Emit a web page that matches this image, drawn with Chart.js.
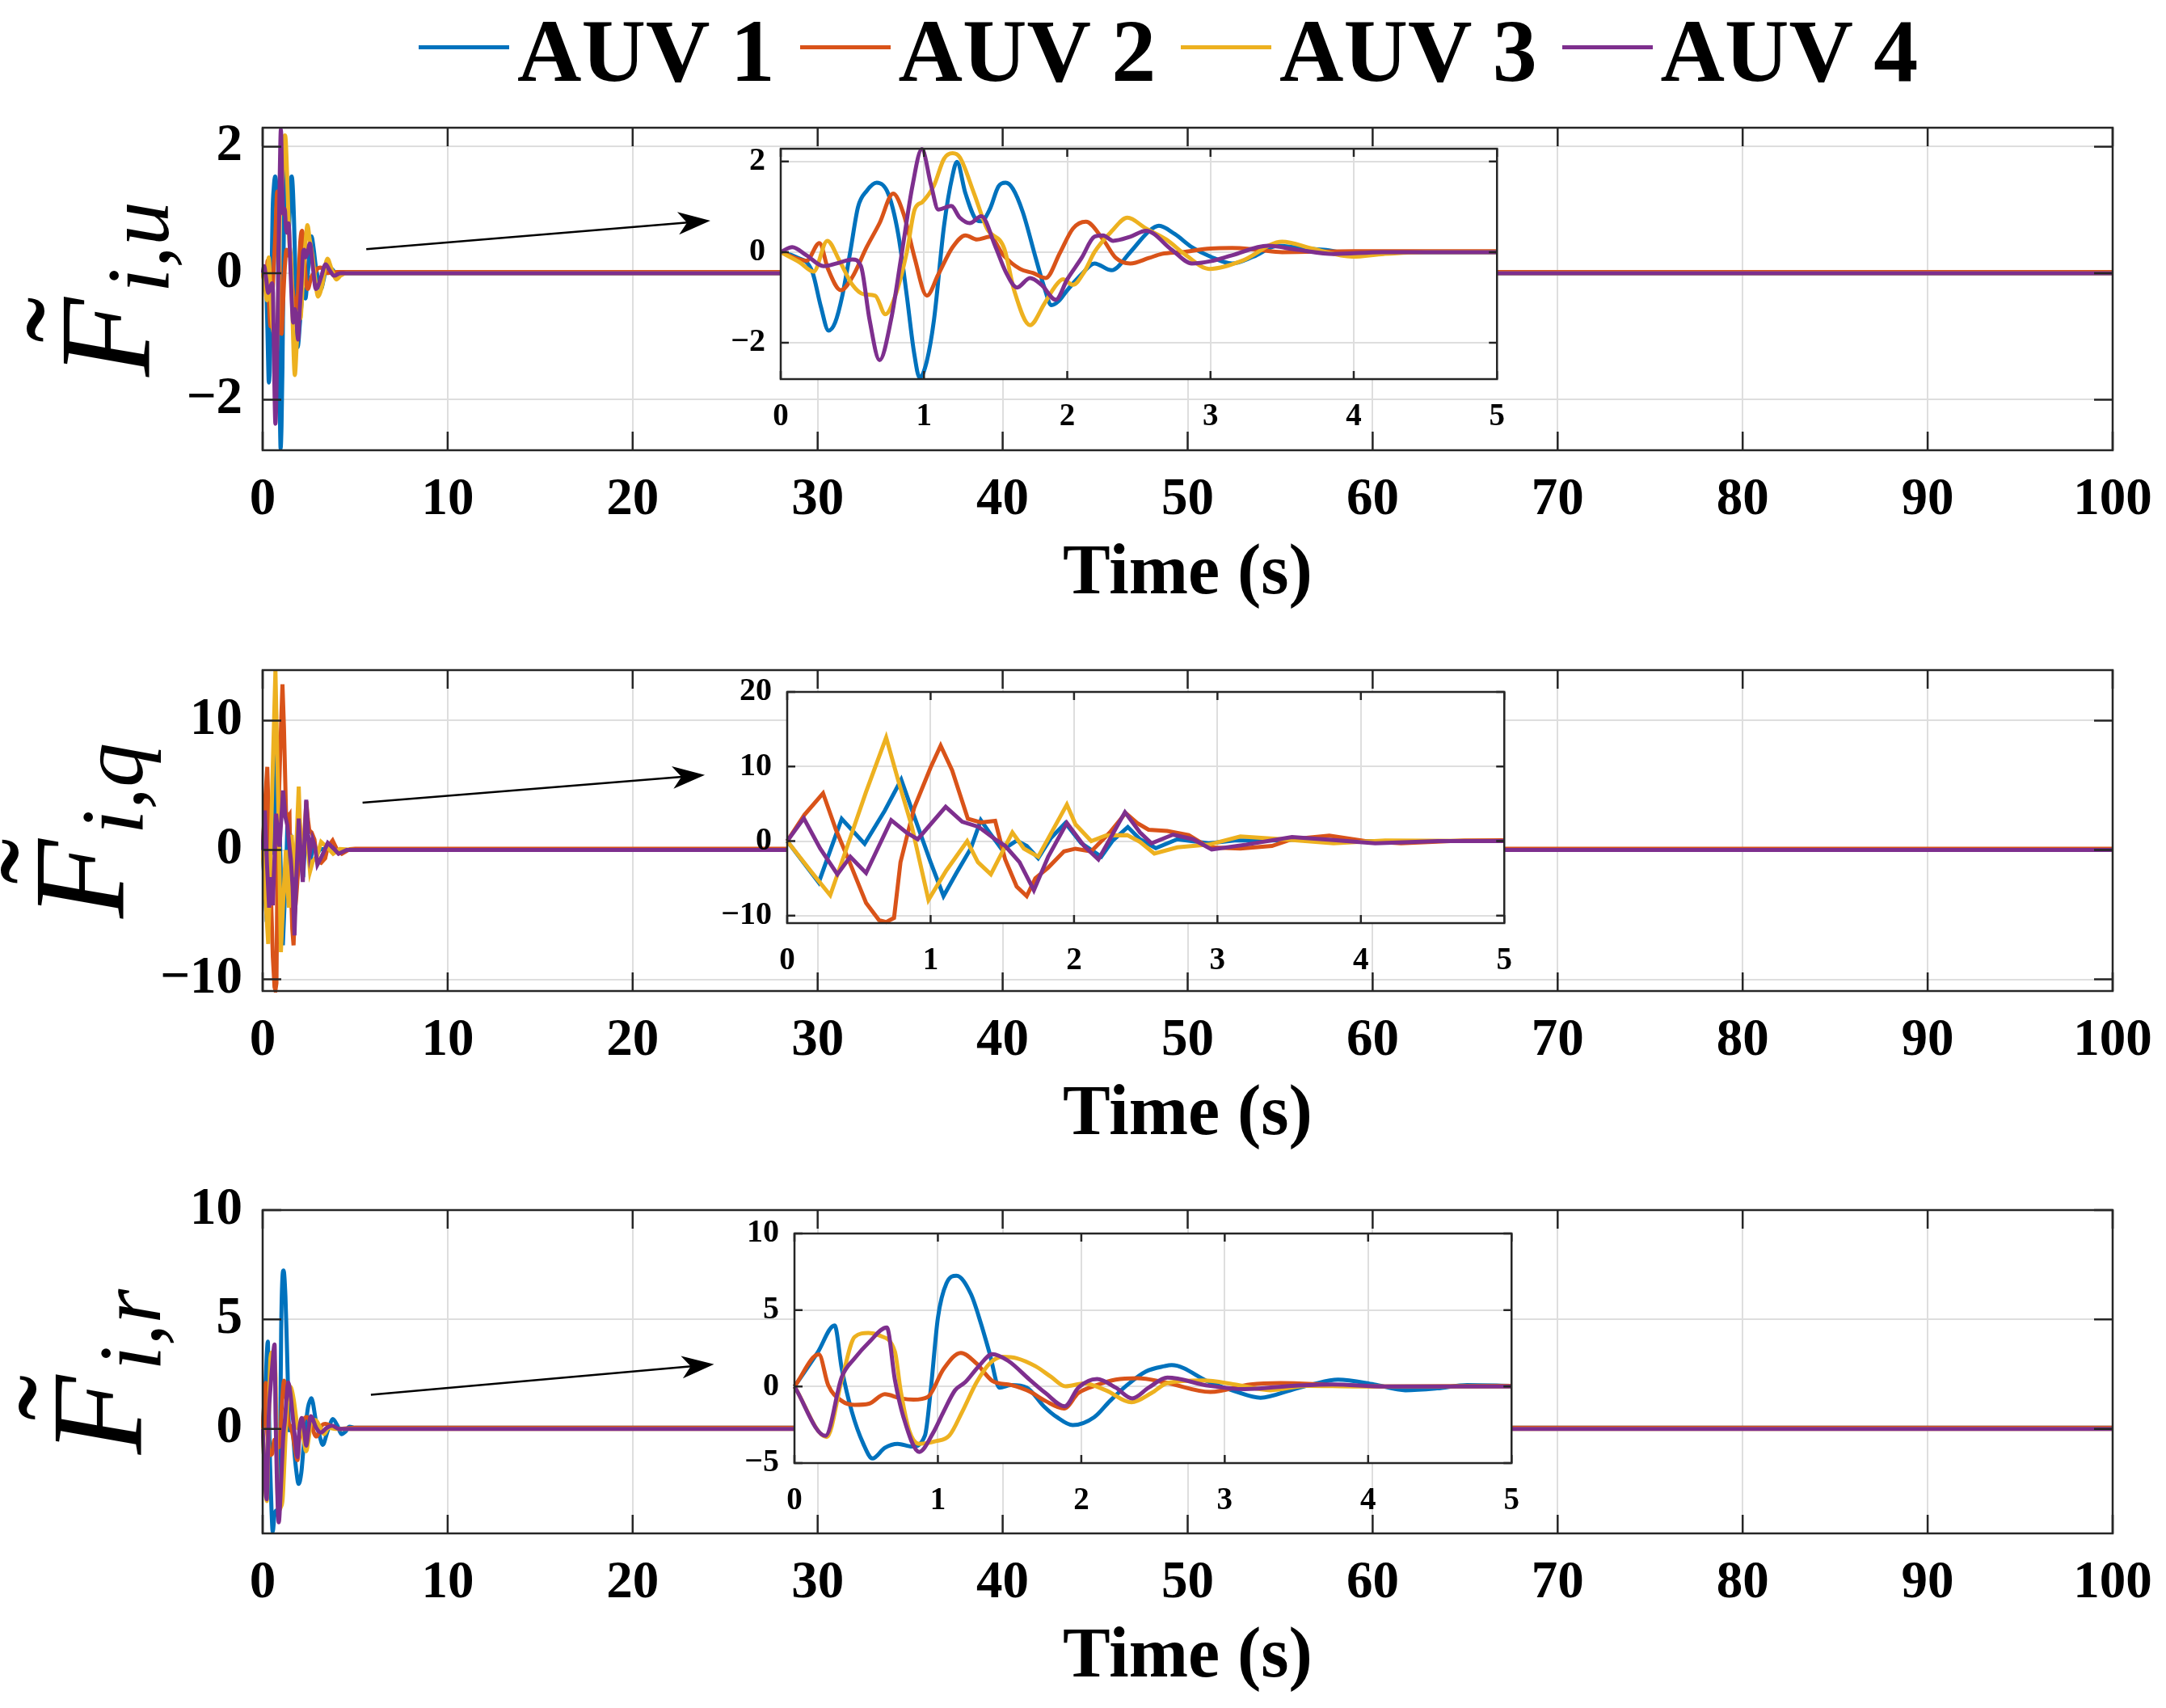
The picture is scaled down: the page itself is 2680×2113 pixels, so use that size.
<!DOCTYPE html>
<html>
<head>
<meta charset="utf-8">
<script src="https://cdn.jsdelivr.net/npm/chart.js@4.4.1/dist/chart.umd.min.js"></script>
<style>
  html, body { margin: 0; padding: 0; background: #fff; }
  #fig { position: relative; width: 2680px; height: 2113px; background: #fff; overflow: hidden; }
  #fig canvas { position: absolute; }
  .leg-line { position: absolute; height: 5px; }
  .leg-text { position: absolute; font: bold 110px "Liberation Serif", "Times New Roman", serif; line-height: 110px; color: #000; white-space: nowrap; }
</style>
</head>
<body>
<div id="fig"></div>
<script>
// ---- data ----
var seriesNames = ['AUV 1', 'AUV 2', 'AUV 3', 'AUV 4'];
var seriesColors = ['#0072BD', '#D95319', '#EDB120', '#7E2F8E'];

var mainTimeTicks = [0, 10, 20, 30, 40, 50, 60, 70, 80, 90, 100];
var zoomTimeTicks = [0, 1, 2, 3, 4, 5];
var uMainTicks = [-2, 0, 2];
var uZoomTicks = [-2, 0, 2];
var qMainTicks = [-10, 0, 10];
var qZoomTicks = [-10, 0, 10, 20];
var rMainTicks = [0, 5, 10];
var rZoomTicks = [-5, 0, 5, 10];

// surge channel  [time (s), value]
var fu1 = [[0,0],[0.1,-0.1],[0.22,-0.43],[0.28,-1.2],[0.334,-1.73],[0.38,-1.55],[0.43,-0.96],[0.485,0],[0.54,1.0],[0.6,1.35],[0.67,1.53],[0.75,1.29],[0.82,0.4],[0.88,-0.96],[0.93,-2.2],[0.97,-2.77],[1.02,-2.4],[1.07,-1.49],[1.14,0.58],[1.2,1.7],[1.23,1.99],[1.29,1.29],[1.37,0.7],[1.4,0.68],[1.46,0.95],[1.52,1.45],[1.57,1.53],[1.62,1.4],[1.69,0.88],[1.78,-0.13],[1.84,-0.78],[1.89,-1.17],[1.94,-1.08],[2.0,-0.84],[2.1,-0.49],[2.19,-0.25],[2.31,-0.4],[2.44,0],[2.57,0.46],[2.64,0.58],[2.75,0.4],[2.87,0.11],[3.0,-0.1],[3.15,-0.25],[3.3,-0.1],[3.47,0.14],[3.6,0.1],[3.79,0.05],[4.03,-0.04],[4.4,0],[5,0]];
var fu2 = [[0,0],[0.18,-0.19],[0.27,0.2],[0.33,-0.37],[0.42,-0.84],[0.5,-0.55],[0.6,0.11],[0.69,0.64],[0.785,1.29],[0.86,0.82],[0.935,-0.13],[1.02,-0.96],[1.1,-0.49],[1.2,0.11],[1.29,0.37],[1.37,0.28],[1.46,0.34],[1.555,-0.07],[1.67,-0.37],[1.76,-0.46],[1.85,-0.57],[1.95,-0.01],[2.04,0.52],[2.13,0.67],[2.25,0.28],[2.34,-0.13],[2.44,-0.25],[2.57,-0.13],[2.66,-0.04],[2.8,0],[3.0,0.08],[3.15,0.09],[3.33,0.05],[3.5,0],[4.0,0.02],[5,0.02]];
var fu3 = [[0,0],[0.13,-0.22],[0.23,-0.43],[0.325,0.25],[0.41,-0.19],[0.5,-0.72],[0.58,-0.93],[0.66,-0.96],[0.73,-1.37],[0.8,-0.96],[0.88,0],[0.935,0.94],[0.99,1.11],[1.07,1.47],[1.14,2.06],[1.2,2.18],[1.25,2.09],[1.35,1.29],[1.44,0.52],[1.56,0.08],[1.63,-0.85],[1.74,-1.61],[1.84,-1.14],[1.91,-0.78],[1.97,-0.6],[2.04,-0.72],[2.12,-0.43],[2.19,0],[2.31,0.46],[2.42,0.76],[2.55,0.52],[2.69,0.28],[2.83,-0.07],[2.99,-0.37],[3.22,-0.19],[3.5,0.23],[3.71,0.08],[3.99,-0.1],[4.21,-0.04],[4.5,0],[5,0]];
var fu4 = [[0,0],[0.08,0.11],[0.18,-0.07],[0.3,-0.31],[0.39,-0.25],[0.5,-0.16],[0.56,-0.31],[0.62,-1.49],[0.69,-2.38],[0.77,-1.49],[0.84,-0.13],[0.92,1.47],[0.985,2.27],[1.05,1.47],[1.1,0.94],[1.19,1.02],[1.25,0.76],[1.32,0.64],[1.4,0.79],[1.5,0.11],[1.57,-0.43],[1.65,-0.78],[1.74,-0.57],[1.82,-0.72],[1.92,-1.05],[2.0,-0.6],[2.1,-0.13],[2.19,0.34],[2.25,0.37],[2.32,0.25],[2.44,0.34],[2.55,0.47],[2.73,0.05],[2.87,-0.25],[3.0,-0.2],[3.15,-0.07],[3.4,0.14],[3.61,0.05],[3.86,-0.04],[4.2,0],[5,0]];

// pitch channel
var fq1 = [[0,0],[0.22,-5.55],[0.38,2.98],[0.54,-0.36],[0.68,4.07],[0.795,8.24],[0.885,3.34],[1.0,-2.83],[1.09,-7.37],[1.18,-4.28],[1.28,-1.0],[1.35,2.8],[1.41,1.16],[1.5,-1.2],[1.6,0.07],[1.67,-0.65],[1.75,-2.29],[1.84,0.44],[1.94,2.43],[2.05,-0.29],[2.19,-2.1],[2.27,0.07],[2.375,1.89],[2.46,0.25],[2.57,-0.94],[2.72,0.25],[2.94,-0.3],[3.12,0.07],[3.38,0.07],[3.63,0.25],[3.99,0],[5,0]];
var fq2 = [[0,0],[0.12,3.52],[0.25,6.42],[0.34,1.52],[0.435,-2.83],[0.55,-8.28],[0.64,-10.6],[0.69,-10.85],[0.745,-10.3],[0.79,-2.83],[0.885,4.43],[1.0,9.87],[1.07,12.8],[1.15,9.5],[1.26,2.98],[1.35,2.5],[1.45,2.72],[1.52,-2.47],[1.6,-6.1],[1.67,-7.37],[1.73,-5.0],[1.82,-3.56],[1.93,-1.38],[2.01,-1.02],[2.12,-1.38],[2.25,1.16],[2.36,3.77],[2.44,2.43],[2.52,1.52],[2.65,1.35],[2.8,0.8],[2.94,-0.84],[3.16,-1.0],[3.38,-0.65],[3.52,0.25],[3.78,0.73],[4.03,0],[4.28,-0.29],[4.72,0.07],[5,0.1]];
var fq3 = [[0,0],[0.19,-4.65],[0.3,-7.26],[0.42,-0.65],[0.55,6.6],[0.69,13.9],[0.77,8.42],[0.87,1.89],[0.985,-7.9],[1.11,-3.92],[1.255,0],[1.33,-2.83],[1.42,-4.46],[1.57,1.16],[1.65,-1.0],[1.75,-2.1],[1.95,4.9],[2.01,2.25],[2.12,0],[2.22,0.73],[2.37,0.8],[2.46,-0.1],[2.56,-1.67],[2.72,-0.84],[2.94,-0.47],[3.16,0.62],[3.45,0.25],[3.81,-0.29],[4.17,0.07],[5,0]];
var fq4 = [[0,0],[0.116,3.05],[0.23,-1.0],[0.35,-4.46],[0.44,-2.1],[0.55,-4.28],[0.725,2.8],[0.83,1.16],[0.91,0.25],[1.105,4.6],[1.22,2.6],[1.335,1.9],[1.45,0.25],[1.52,-0.65],[1.62,-2.83],[1.72,-6.6],[1.82,-2.1],[1.95,2.43],[2.07,-0.65],[2.17,-2.47],[2.355,3.88],[2.46,1.16],[2.54,-0.3],[2.69,0.87],[2.83,0.25],[2.96,-1.13],[3.2,-0.47],[3.52,0.55],[3.81,0.15],[4.1,-0.29],[4.54,0],[5,0]];

// yaw channel
var fr1 = [[0,0],[0.16,2.2],[0.28,3.99],[0.33,1.15],[0.4,-1.64],[0.48,-3.74],[0.544,-4.7],[0.63,-4.0],[0.72,-3.74],[0.82,-3.92],[0.91,-3.2],[0.95,-0.24],[1.0,4.48],[1.06,6.75],[1.13,7.24],[1.23,6.05],[1.3,4.13],[1.36,2.2],[1.43,-0.07],[1.51,0.1],[1.62,-0.07],[1.74,-1.3],[1.83,-2.0],[1.94,-2.52],[2.09,-2.0],[2.2,-0.94],[2.32,0.1],[2.45,0.98],[2.58,1.33],[2.63,1.4],[2.89,0.31],[3.07,-0.3],[3.25,-0.73],[3.47,-0.21],[3.61,0.14],[3.79,0.45],[4.04,0.14],[4.26,-0.24],[4.48,-0.12],[4.69,0.1],[5,0.05]];
var fr2 = [[0,0],[0.17,2.1],[0.235,0.1],[0.33,-0.94],[0.42,-1.2],[0.52,-1.12],[0.63,-0.5],[0.74,-0.77],[0.83,-0.86],[0.93,-0.68],[1.04,1.15],[1.16,2.2],[1.27,1.5],[1.38,0.37],[1.51,0.1],[1.64,-0.33],[1.75,-0.94],[1.88,-1.43],[1.98,-0.42],[2.11,0.1],[2.24,0.45],[2.39,0.54],[2.58,0.28],[2.9,-0.35],[3.18,0.14],[3.39,0.23],[3.75,0.1],[4.12,0],[5,0.05]];
var fr3 = [[0,0],[0.225,-3.3],[0.33,0.45],[0.42,3.25],[0.516,3.5],[0.59,3.34],[0.7,2.29],[0.74,-0.24],[0.8,-2.87],[0.87,-3.74],[0.985,-3.57],[1.08,-3.2],[1.17,-1.64],[1.27,0.28],[1.36,1.5],[1.45,1.94],[1.55,1.85],[1.68,1.33],[1.79,0.63],[1.89,0.02],[2.02,0.2],[2.17,-0.24],[2.35,-1.03],[2.49,-0.42],[2.6,0.23],[2.85,0.4],[3.07,0.14],[3.32,-0.24],[3.57,0.05],[3.93,0],[5,0]];
var fr4 = [[0,0],[0.216,-3.22],[0.33,0.63],[0.42,1.85],[0.52,2.9],[0.644,3.86],[0.7,0.45],[0.76,-2.0],[0.87,-4.27],[0.966,-3.04],[1.04,-1.64],[1.12,-0.24],[1.19,0.28],[1.285,1.33],[1.38,2.12],[1.49,1.68],[1.64,0.45],[1.75,-0.42],[1.885,-1.29],[1.98,-0.07],[2.11,0.49],[2.24,-0.07],[2.355,-0.77],[2.47,-0.07],[2.6,0.58],[2.89,0.05],[3.14,-0.17],[3.47,0.05],[3.75,0.14],[4.12,0],[5,0]];

var endTime = 100;

// ---- layout of the three panels ----
var panels = [
  { series: [fu1, fu2, fu3, fu4], mainTicks: uMainTicks, zoomTicks: uZoomTicks,
    mainRange: [-2.8, 2.3], zoomRange: [-2.8, 2.28], sub: 'i,u', smooth: true,
    top: 100, height: 655, labelX: 184, arrow: [[5.6, 0.38], [24.2, 0.83]],
    inset: { left: 856, top: 144, width: 1033, height: 405 } },
  { series: [fq1, fq2, fq3, fq4], mainTicks: qMainTicks, zoomTicks: qZoomTicks,
    mainRange: [-10.9, 13.9], zoomRange: [-11, 20], sub: 'i,q', smooth: false,
    top: 771, height: 653, labelX: 152, arrow: [[5.4, 3.65], [23.9, 5.8]],
    inset: { left: 864, top: 816, width: 1034, height: 406 } },
  { series: [fr1, fr2, fr3, fr4], mainTicks: rMainTicks, zoomTicks: rZoomTicks,
    mainRange: [-4.78, 10], zoomRange: [-5, 10], sub: 'i,r', smooth: true,
    top: 1439, height: 656, labelX: 174, arrow: [[5.85, 1.56], [24.4, 2.95]],
    inset: { left: 873, top: 1486, width: 1034, height: 404 } }
];

Chart.defaults.font.family = '"Liberation Serif", "Times New Roman", serif';
Chart.defaults.color = '#000';

function tickText(v) {
  return String(v).replace('-', '\u2212');
}

// box round the axes with MATLAB-style inward ticks
var framePlugin = {
  id: 'frame',
  beforeDraw: function (chart, args, opts) {
    if (!opts.fill) return;
    var a = chart.chartArea;
    chart.ctx.save();
    chart.ctx.fillStyle = '#fff';
    chart.ctx.fillRect(a.left, a.top, a.right - a.left, a.bottom - a.top);
    chart.ctx.restore();
  },
  afterDraw: function (chart, args, opts) {
    var ctx = chart.ctx, a = chart.chartArea, sx = chart.scales.x, sy = chart.scales.y;
    var L = opts.tickLen;
    ctx.save();
    ctx.strokeStyle = '#262626';
    ctx.lineWidth = opts.lineWidth;
    ctx.beginPath();
    sx.ticks.forEach(function (t) {
      var px = sx.getPixelForValue(t.value);
      ctx.moveTo(px, a.bottom); ctx.lineTo(px, a.bottom - L);
      ctx.moveTo(px, a.top); ctx.lineTo(px, a.top + L);
    });
    sy.ticks.forEach(function (t) {
      var py = sy.getPixelForValue(t.value);
      ctx.moveTo(a.left, py); ctx.lineTo(a.left + L, py);
      ctx.moveTo(a.right, py); ctx.lineTo(a.right - L, py);
    });
    ctx.stroke();
    ctx.strokeRect(a.left, a.top, a.right - a.left, a.bottom - a.top);
    ctx.restore();
  }
};

// annotation arrow pointing at the zoom box
var arrowPlugin = {
  id: 'arrow',
  afterDraw: function (chart, args, opts) {
    if (!opts.from) return;
    var ctx = chart.ctx, sx = chart.scales.x, sy = chart.scales.y;
    var x1 = sx.getPixelForValue(opts.from[0]), y1 = sy.getPixelForValue(opts.from[1]);
    var x2 = sx.getPixelForValue(opts.to[0]), y2 = sy.getPixelForValue(opts.to[1]);
    var ang = Math.atan2(y2 - y1, x2 - x1);
    var d = Math.hypot(x2 - x1, y2 - y1);
    ctx.save();
    ctx.translate(x2, y2);
    ctx.rotate(ang);
    ctx.strokeStyle = '#000';
    ctx.fillStyle = '#000';
    ctx.lineWidth = 2.5;
    ctx.beginPath();
    ctx.moveTo(-d, 0);
    ctx.lineTo(-28, 0);
    ctx.stroke();
    ctx.beginPath();
    ctx.moveTo(0, 0);
    ctx.lineTo(-40, -14);
    ctx.lineTo(-29, 0);
    ctx.lineTo(-40, 14);
    ctx.closePath();
    ctx.fill();
    ctx.restore();
  }
};

// rotated math label  F~_{i,x}
var yLabelPlugin = {
  id: 'yLabel',
  afterDraw: function (chart, args, opts) {
    if (!opts.sub) return;
    var ctx = chart.ctx, a = chart.chartArea;
    var cy = (a.top + a.bottom) / 2;
    ctx.save();
    ctx.translate(opts.x, cy);
    ctx.rotate(-Math.PI / 2);
    ctx.fillStyle = '#000';
    ctx.textBaseline = 'alphabetic';
    ctx.textAlign = 'left';
    var bigFont = 'italic 160px "Liberation Serif"';
    var subFont = 'italic 110px "Liberation Serif"';
    ctx.font = bigFont;
    var fW = ctx.measureText('F').width;
    ctx.font = subFont;
    var sW = ctx.measureText(opts.sub).width;
    var x0 = -(fW + sW + 6) / 2;
    ctx.font = bigFont;
    ctx.fillText('F', x0, 0);
    ctx.font = subFont;
    ctx.fillText(opts.sub, x0 + fW + 6, 24);
    ctx.font = '170px "Liberation Serif"';
    var m = ctx.measureText('\u02DC');
    var inkMid = (m.actualBoundingBoxAscent - m.actualBoundingBoxDescent) / 2;
    var tx = x0 + fW * 0.72 - (m.actualBoundingBoxRight - m.actualBoundingBoxLeft) / 2;
    ctx.fillText('\u02DC', tx, -(140 - inkMid));
    ctx.restore();
  }
};

var fig = document.getElementById('fig');

function addCanvas(left, top, w, h) {
  var c = document.createElement('canvas');
  c.width = w; c.height = h;
  c.style.left = left + 'px'; c.style.top = top + 'px';
  c.style.width = w + 'px'; c.style.height = h + 'px';
  fig.appendChild(c);
  return c.getContext('2d');
}

function makeDatasets(p, withTail) {
  return p.series.map(function (s, i) {
    var pts = withTail ? s.concat([[endTime, s[s.length - 1][1]]]) : s;
    return {
      label: seriesNames[i],
      data: pts,
      borderColor: seriesColors[i],
      backgroundColor: seriesColors[i],
      borderWidth: 5,
      pointRadius: 0,
      fill: false,
      order: 4 - i,
      tension: p.smooth ? 0.4 : 0,
      cubicInterpolationMode: p.smooth ? 'monotone' : 'default',
      clip: 2
    };
  });
}

function axisTicks(values) {
  return function (scale) {
    scale.ticks = values.map(function (v) { return { value: v }; });
  };
}

panels.forEach(function (p) {
  // main axes, 0..100 s
  new Chart(addCanvas(0, p.top, 2693, p.height), {
    type: 'line',
    data: { datasets: makeDatasets(p, true) },
    plugins: [framePlugin, arrowPlugin, yLabelPlugin],
    options: {
      responsive: false, animation: false, devicePixelRatio: 1,
      layout: { padding: { top: 58, right: 79, left: 0, bottom: 0 } },
      plugins: {
        legend: { display: false }, tooltip: { enabled: false },
        frame: { tickLen: 23, lineWidth: 2.5 },
        arrow: { from: p.arrow[0], to: p.arrow[1] },
        yLabel: { sub: p.sub, x: p.labelX }
      },
      scales: {
        x: {
          type: 'linear', min: 0, max: endTime,
          afterBuildTicks: axisTicks(mainTimeTicks),
          afterFit: function (s) { s.height = 198; },
          grid: { color: '#dedede', lineWidth: 2, drawTicks: false },
          border: { display: false },
          ticks: { padding: 30, maxRotation: 0, autoSkip: false, callback: tickText,
                   font: { size: 65, weight: 'bold', lineHeight: 1 } },
          title: { display: true, text: 'Time (s)', padding: 0,
                   font: { size: 88, weight: 'bold', lineHeight: 1 } }
        },
        y: {
          type: 'linear', min: p.mainRange[0], max: p.mainRange[1],
          afterBuildTicks: axisTicks(p.mainTicks),
          afterFit: function (s) { s.width = 325; },
          grid: { color: '#dedede', lineWidth: 2, drawTicks: false },
          border: { display: false },
          ticks: { padding: 25, autoSkip: false, callback: tickText,
                   font: { size: 65, weight: 'bold', lineHeight: 1 } }
        }
      }
    }
  });

  // zoomed inset, 0..5 s
  var b = p.inset;
  new Chart(addCanvas(b.left, b.top, b.width, b.height), {
    type: 'line',
    data: { datasets: makeDatasets(p, false) },
    plugins: [framePlugin],
    options: {
      responsive: false, animation: false, devicePixelRatio: 1,
      layout: { padding: { top: 40, right: 35, left: 0, bottom: 0 } },
      plugins: {
        legend: { display: false }, tooltip: { enabled: false },
        frame: { tickLen: 10, lineWidth: 2.5, fill: true }
      },
      scales: {
        x: {
          type: 'linear', min: 0, max: 5,
          afterBuildTicks: axisTicks(zoomTimeTicks),
          afterFit: function (s) { s.height = 80; },
          grid: { color: '#dedede', lineWidth: 2, drawTicks: false },
          border: { display: false },
          ticks: { padding: 27, maxRotation: 0, autoSkip: false, callback: tickText,
                   font: { size: 39, weight: 'bold', lineHeight: 1 } }
        },
        y: {
          type: 'linear', min: p.zoomRange[0], max: p.zoomRange[1],
          afterBuildTicks: axisTicks(p.zoomTicks),
          afterFit: function (s) { s.width = 110; },
          grid: { color: '#dedede', lineWidth: 2, drawTicks: false },
          border: { display: false },
          ticks: { padding: 19, autoSkip: false, callback: tickText,
                   font: { size: 40, weight: 'bold', lineHeight: 1 } }
        }
      }
    }
  });
});

// legend row across the top
var legLeft = 518, legStep = 471.5;
seriesNames.forEach(function (name, i) {
  var x = legLeft + i * legStep;
  var line = document.createElement('div');
  line.className = 'leg-line';
  line.style.left = x + 'px';
  line.style.top = '56px';
  line.style.width = '112px';
  line.style.background = seriesColors[i];
  fig.appendChild(line);
  var txt = document.createElement('div');
  txt.className = 'leg-text';
  txt.style.left = (x + 122) + 'px';
  txt.style.top = '8px';
  txt.textContent = name;
  fig.appendChild(txt);
});
</script>
</body>
</html>
